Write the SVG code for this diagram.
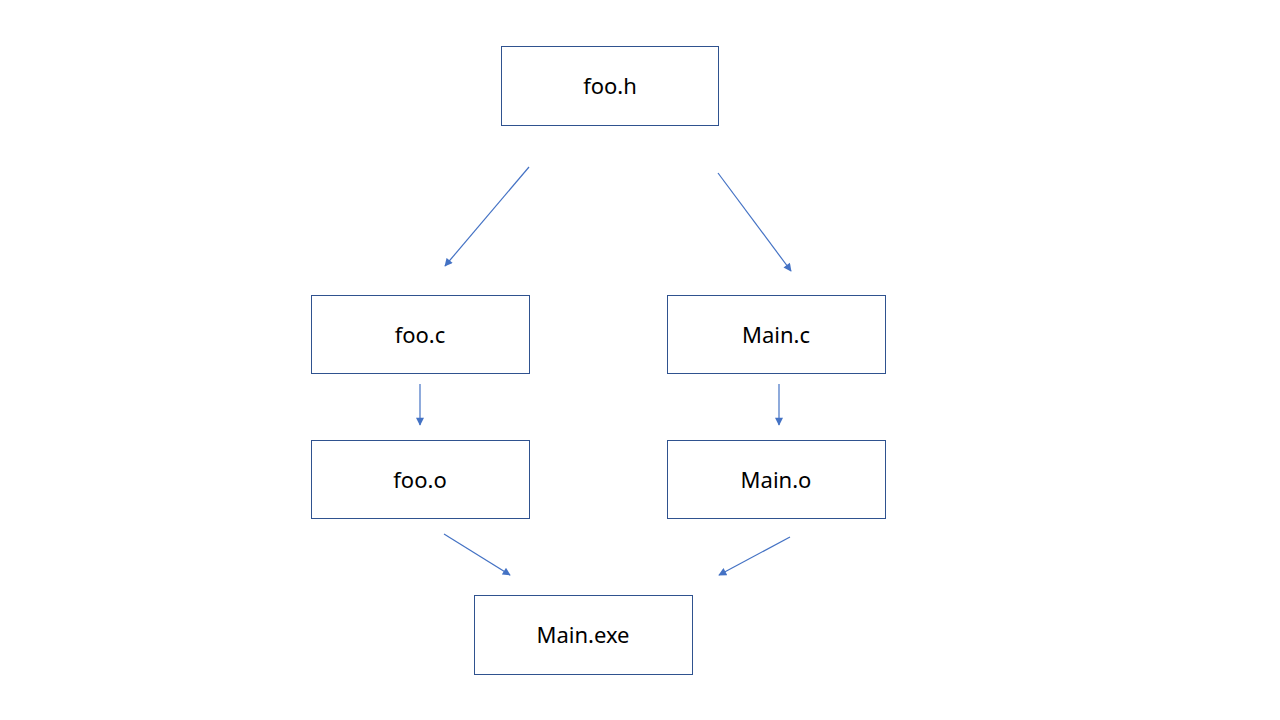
<svg xmlns="http://www.w3.org/2000/svg" width="1280" height="720" viewBox="0 0 1280 720">
<defs>
<marker id="ah" viewBox="0 0 10 10" refX="9" refY="5" markerWidth="9" markerHeight="8" orient="auto" markerUnits="userSpaceOnUse">
<path d="M0,0 L10,5 L0,10 z" fill="#4472C4"/>
</marker>
</defs>
<style>
.box{fill:#FFFFFF;stroke:#2F528F;stroke-width:1}
.lbl{font-family:"Noto Sans","Open Sans","Liberation Sans",sans-serif;font-size:22px;fill:#000000;text-anchor:middle}
.edge{stroke:#4472C4;stroke-width:1.2;fill:none;marker-end:url(#ah)}
</style>
<rect width="1280" height="720" fill="#FFFFFF"/>
<g id="connectors">
<line class="edge" x1="529" y1="167" x2="445" y2="266"/>
<line class="edge" x1="718" y1="173" x2="791" y2="271"/>
<line class="edge" x1="420" y1="384" x2="420" y2="425"/>
<line class="edge" x1="779" y1="384" x2="779" y2="425"/>
<line class="edge" x1="444" y1="534" x2="510" y2="575"/>
<line class="edge" x1="790" y1="537" x2="719" y2="575"/>
</g>
<g id="foo_h"><rect class="box" x="501.5" y="46.5" width="217" height="79"/><text class="lbl" x="610" y="94">foo.h</text></g>
<g id="foo_c"><rect class="box" x="311.5" y="295.5" width="218" height="78"/><text class="lbl" x="420" y="343">foo.c</text></g>
<g id="main_c"><rect class="box" x="667.5" y="295.5" width="218" height="78"/><text class="lbl" x="776" y="343">Main.c</text></g>
<g id="foo_o"><rect class="box" x="311.5" y="440.5" width="218" height="78"/><text class="lbl" x="420" y="488">foo.o</text></g>
<g id="main_o"><rect class="box" x="667.5" y="440.5" width="218" height="78"/><text class="lbl" x="776" y="488">Main.o</text></g>
<g id="main_exe"><rect class="box" x="474.5" y="595.5" width="218" height="79"/><text class="lbl" x="583" y="643">Main.exe</text></g>
</svg>
